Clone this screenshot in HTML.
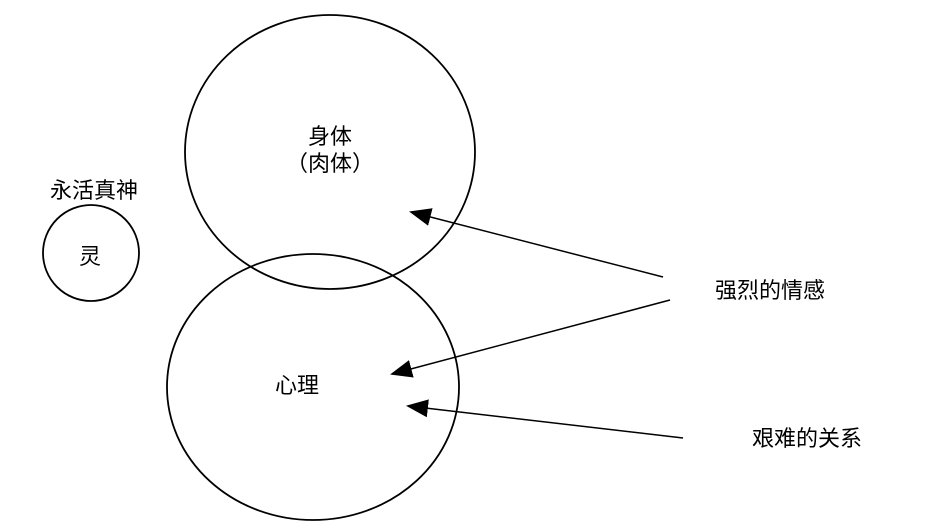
<!DOCTYPE html>
<html><head><meta charset="utf-8"><style>
html,body{margin:0;padding:0;background:#fff;}
svg{display:block;}
text{font-family:"Liberation Sans","Noto Sans CJK SC",sans-serif;font-size:22px;fill:#000;}
</style></head><body>
<svg width="936" height="532" viewBox="0 0 936 532" xmlns="http://www.w3.org/2000/svg">
<defs>
<marker id="b" markerWidth="22" markerHeight="18" refX="20" refY="9" orient="auto" markerUnits="userSpaceOnUse"><path d="M0,0 L22,9 L0,18 z" fill="#000"/></marker></defs>
<ellipse cx="330" cy="152" rx="145" ry="137" fill="none" stroke="#000" stroke-width="1.8"/>
<ellipse cx="313" cy="387" rx="146" ry="133" fill="none" stroke="#000" stroke-width="1.8"/>
<circle cx="91" cy="253" r="48" fill="none" stroke="#000" stroke-width="1.8"/>
<text x="330" y="144" text-anchor="middle">身体</text>
<text x="330" y="171" text-anchor="middle">（肉体）</text>
<text x="94" y="198" text-anchor="middle">永活真神</text>
<text x="90" y="264" text-anchor="middle">灵</text>
<text x="297" y="393" text-anchor="middle">心理</text>
<text x="770" y="298" text-anchor="middle">强烈的情感</text>
<text x="807" y="446" text-anchor="middle">艰难的关系</text>
<line x1="663" y1="277" x2="411" y2="212" stroke="#000" stroke-width="1.5" marker-end="url(#b)"/>
<line x1="670" y1="300" x2="392" y2="374" stroke="#000" stroke-width="1.5" marker-end="url(#b)"/>
<line x1="683" y1="438" x2="408" y2="406" stroke="#000" stroke-width="1.5" marker-end="url(#b)"/>
</svg>
</body></html>
